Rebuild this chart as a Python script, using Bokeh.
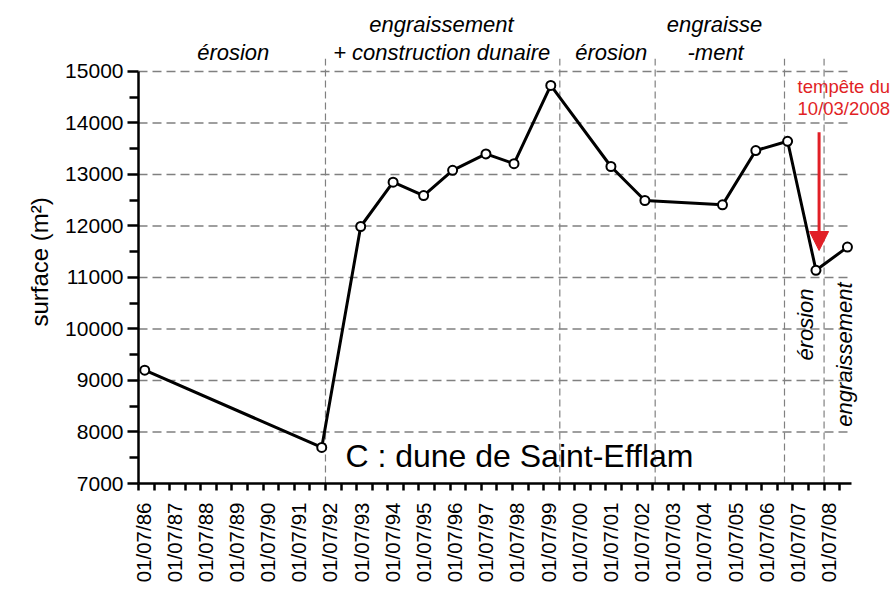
import math
from bokeh.plotting import figure
from bokeh.models import FixedTicker, LinearAxis, Range1d, Span, Label, Arrow, NormalHead, Title
from bokeh.embed import file_html
from bokeh.resources import INLINE

# ---------------- data ----------------
# survey dates as decimal years
dates = [1986.70, 1992.38, 1993.63, 1994.67, 1995.65, 1996.58, 1997.65, 1998.55,
         1999.73, 2001.66, 2002.75, 2005.24, 2006.31, 2007.33, 2008.24, 2009.25]
# dune surface (m2)
surface = [9200, 7700, 11990, 12850, 12590, 13080, 13400, 13210,
           14730, 13155, 12495, 12410, 13465, 13645, 11140, 11590]
# boundaries between phases (decimal years)
phase_bounds = [1992.5, 2000.02, 2003.08, 2007.23, 2008.5]
# phase names above the chart (lower row / upper row) and their centre dates
phase_row2_x = [1989.54, 1996.23, 2001.67, 2005.02]
phase_row2 = ["érosion", "+ construction dunaire", "érosion", "-ment"]
phase_row1_x = [1996.22, 2004.985]
phase_row1 = ["engraissement", "engraisse"]
# x tick positions / labels
tick_years = [1986.5 + i for i in range(23)]
tick_labels = ["01/07/86", "01/07/87", "01/07/88", "01/07/89", "01/07/90", "01/07/91",
               "01/07/92", "01/07/93", "01/07/94", "01/07/95", "01/07/96", "01/07/97",
               "01/07/98", "01/07/99", "01/07/00", "01/07/01", "01/07/02", "01/07/03",
               "01/07/04", "01/07/05", "01/07/06", "01/07/07", "01/07/08"]
y_ticks = [7000, 8000, 9000, 10000, 11000, 12000, 13000, 14000, 15000]
y_minor = [7500, 8500, 9500, 10500, 11500, 12500, 13500, 14500]
# storm of 10/03/2008 arrow
storm_x = 2008.34
storm_from = 13821
storm_to = 11524

RED = "#e11f26"
FONT = "Liberation Sans"

X0 = 1986.5
X_AXIS_END = 2009.38      # end of the x axis line and of the grid lines
X1 = 2010.76              # right edge of the drawing area (room for notes)
Y0, Y1 = 7000, 15252

p = figure(width=894, height=591, x_range=Range1d(X0, X1), y_range=Range1d(Y0, Y1),
           output_backend="svg", toolbar_location=None,
           min_border_left=138, min_border_right=0, min_border_top=58, min_border_bottom=108)
p.outline_line_color = None
p.background_fill_color = "white"
p.border_fill_color = "white"
p.xgrid.visible = False
p.ygrid.visible = False

# y axis
ya = p.yaxis[0]
ya.ticker = FixedTicker(ticks=y_ticks, minor_ticks=y_minor)
ya.bounds = (y_ticks[0], y_ticks[-1])
ya.axis_line_width = 2.5
ya.major_tick_line_width = 2.5
ya.minor_tick_line_width = 2.5
ya.major_tick_out = 11
ya.major_tick_in = 0
ya.minor_tick_out = 9
ya.minor_tick_in = 0
ya.major_label_text_font = FONT
ya.major_label_text_font_size = "21px"
ya.major_label_text_color = "black"
ya.major_label_standoff = 4

# y axis title
p.add_layout(Title(text="surface (m²)", align="left", offset=157, standoff=20,
                   text_font=FONT, text_font_size="24px", text_font_style="normal",
                   text_color="black"), "left")

# horizontal dashed grid lines (stop at the end of the x axis)
gy = y_ticks[1:]
p.segment(x0=[X0] * len(gy), y0=gy, x1=[X_AXIS_END] * len(gy), y1=gy,
          line_color="#808080", line_dash="9 5", line_width=1.5, level="underlay")

# x axis: ticks only
xa = p.xaxis[0]
half_ticks = sorted(tick_years + [t + 0.5 for t in tick_years])
xa.ticker = FixedTicker(ticks=half_ticks, minor_ticks=[])
xa.bounds = (X0, X_AXIS_END)
xa.axis_line_width = 2.5
xa.major_tick_line_width = 2.5
xa.major_tick_out = 7
xa.major_tick_in = 0
xa.major_label_text_font_size = "1px"
xa.major_label_text_color = None
xa.major_label_standoff = 0

# x axis labels (slightly offset to the right as in the original)
off = 4.5 / 31.16
p.extra_x_ranges = {"lab": Range1d(X0 - off, X1 - off)}
la = LinearAxis(x_range_name="lab", ticker=FixedTicker(ticks=tick_years, minor_ticks=[]),
                major_label_overrides={t: l for t, l in zip(tick_years, tick_labels)})
la.axis_line_color = None
la.major_tick_line_color = None
la.minor_tick_line_color = None
la.major_tick_out = 0
la.major_tick_in = 0
la.minor_tick_out = 0
la.minor_tick_in = 0
la.major_label_orientation = math.pi / 2
la.major_label_text_font = FONT
la.major_label_text_font_size = "20.5px"
la.major_label_text_color = "black"
la.major_label_standoff = 12
p.add_layout(la, "below")

# phase names above the plot, as two label-only axes
def top_axis(xs, texts, standoff):
    ax = LinearAxis(ticker=FixedTicker(ticks=xs, minor_ticks=[]),
                    major_label_overrides={t: s for t, s in zip(xs, texts)})
    ax.axis_line_color = None
    ax.major_tick_line_color = None
    ax.minor_tick_line_color = None
    ax.major_tick_out = 0
    ax.major_tick_in = 0
    ax.minor_tick_out = 0
    ax.minor_tick_in = 0
    ax.major_label_text_font = FONT
    ax.major_label_text_font_size = "22px"
    ax.major_label_text_font_style = "italic"
    ax.major_label_text_color = "black"
    ax.major_label_standoff = standoff
    p.add_layout(ax, "above")

top_axis(phase_row2_x, phase_row2, -6)
top_axis(phase_row1_x, phase_row1, 0)

# phase boundaries
for b in phase_bounds:
    p.add_layout(Span(location=b, dimension="height", line_color="#808080",
                      line_dash="7 4", line_width=1.2, level="underlay"))

# data
p.line(dates, surface, line_color="black", line_width=3)
p.scatter(dates, surface, marker="circle", size=9, fill_color="white",
          line_color="black", line_width=2)

# storm arrow
p.add_layout(Arrow(end=NormalHead(size=19, fill_color=RED, line_color=RED),
                   x_start=storm_x, y_start=storm_from, x_end=storm_x, y_end=storm_to,
                   line_color=RED, line_width=3))

def lab(x, y, text, size="22px", italic=True, color="black", align="center", angle=0.0):
    p.add_layout(Label(x=x, y=y, text=text, text_font=FONT, text_font_size=size,
                       text_font_style="italic" if italic else "normal",
                       text_color=color, text_align=align, text_baseline="alphabetic",
                       angle=angle))

lab(2007.92, 10087, "érosion", angle=math.pi / 2)
lab(2009.17, 9505, "engraissement", angle=math.pi / 2)
lab(2007.649, 14701, "tempête du", size="18.5px", italic=False, color=RED, align="left")
lab(2007.649, 14274, "10/03/2008", size="18.5px", italic=False, color=RED, align="left")
lab(1993.14, 7528, "C : dune de Saint-Efflam", size="32px", italic=False, align="left")

open("out.html", "w").write(file_html(p, INLINE))
